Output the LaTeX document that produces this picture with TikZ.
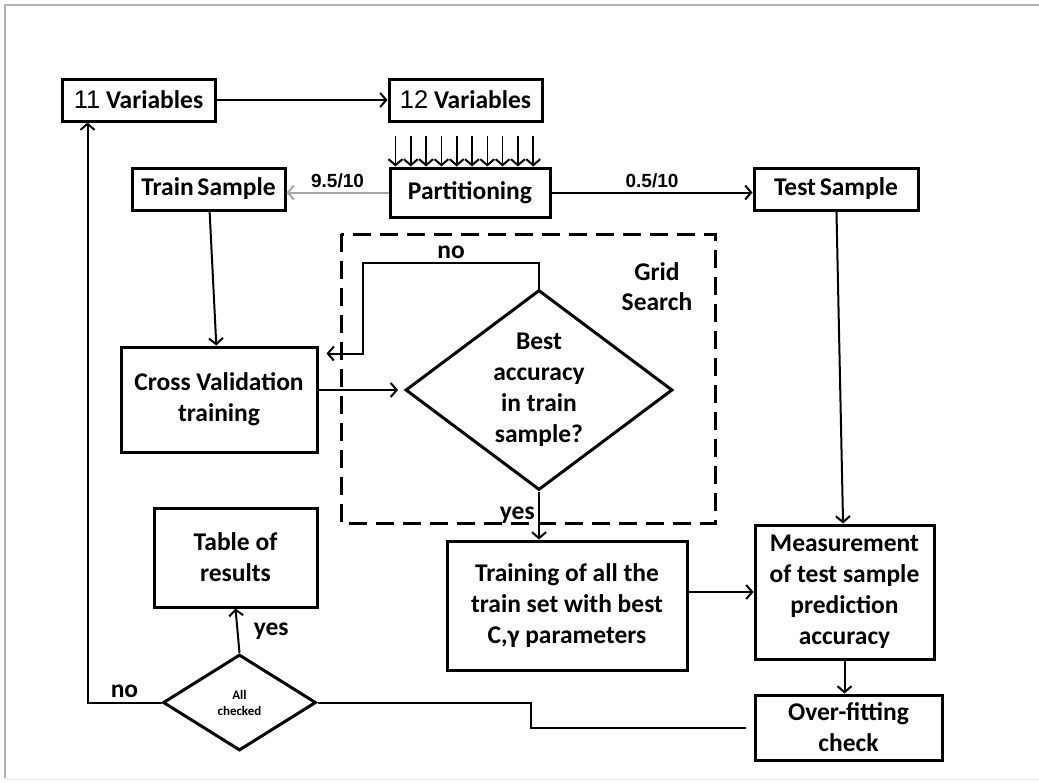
\documentclass[tikz,border=0pt]{standalone}
\usepackage{fontspec}
\setmainfont{Carlito}
\newfontfamily\arialfont{Liberation Sans}
\usetikzlibrary{shapes.geometric,arrows.meta}

\begin{document}
\begin{tikzpicture}[x=1pt, y=-1pt,
    box/.style={draw, line width=3pt, align=center, inner sep=2pt, font=\bfseries\fontsize{25.5}{31}\selectfont},
    decision/.style={draw, diamond, aspect=1.33, line width=3pt, align=center, inner sep=0pt},
    flow/.style={line width=2pt, -{Straight Barb[length=6pt,width=14pt,line width=2pt]}},
    link/.style={line width=2pt},
    lbl/.style={font=\bfseries\fontsize{25.5}{28}\selectfont},
    ratio/.style={font=\arialfont\bfseries\fontsize{19}{22}\selectfont}]
    \useasboundingbox (0,0) rectangle (1039,782);
    % Frame
    \draw[gray!60, line width=2pt] (5,778) -- (5,5) -- (1039,5);
    \draw[gray!20, line width=1pt] (5,779) -- (1039,779);

    % Nodes
    \node[box, minimum width=153pt, minimum height=42pt] (var11) at (138.5,100) {{\arialfont\mdseries 11} Variables};
    \node[box, minimum width=153pt, minimum height=42pt] (var12) at (465.5,100) {{\arialfont\mdseries 12} Variables};
    \node[box, minimum width=160pt, minimum height=49pt] (part) at (470,192.5) {Partitioning};
    \node[box, minimum width=153pt, minimum height=42pt] (train) at (208.5,189) {Train\hspace{-2pt} Sample};
    \node[box, minimum width=164pt, minimum height=42pt] (test) at (836,189) {Test\hspace{-2pt} Sample};
    \node[box, minimum width=196pt, minimum height=105pt] (cv) at (219,399.5) {Cross Validation\\training};
    \node[decision, minimum width=267pt, minimum height=200pt, font=\bfseries\fontsize{25.5}{31}\selectfont] (best) at (539,390) {Best\\accuracy\\in train\\sample?};
    \node[box, minimum width=240pt, minimum height=129pt] (training) at (567,605.5) {Training of all the\\train set with best\\C,γ parameters};
    \node[box, minimum width=179pt, minimum height=134pt] (meas) at (844.5,592) {Measurement\\of test sample\\prediction\\accuracy};
    \node[box, minimum width=187pt, minimum height=65pt] (over) at (848.5,727.5) {Over-fitting\\check};
    \node[box, minimum width=163pt, minimum height=99pt] (table) at (235.5,557.5) {Table of\\results};
    \node[decision, minimum width=153pt, minimum height=96pt, font=\bfseries\fontsize{13}{16}\selectfont] (check) at (239.5,702.5) {All\\checked};

    % Grid search region
    \draw[line width=3pt, dash pattern=on 18pt off 9pt] (341,234) rectangle (715,523);
    \node[lbl, align=center, font=\bfseries\fontsize{25.5}{30}\selectfont] (gridlbl) at (657,287) {Grid\\Search};

    \coordinate (noturn) at (363,263);
    \coordinate (jog) at (531,0);

    % Arrows
    \draw[flow] (var11) -- (var12);
    \foreach \i in {0,...,9}
        \draw[flow, line width=1.6pt] ([xshift={7+15.3*\i}]part.north west) ++(0,-31) -- ++(0,31);
    \draw[flow, gray!70] (part.west) -- (part.west -| train.east) node[midway, above, ratio, text=black] {9.5/10};
    \draw[flow] (part.east) -- (part.east -| test.west) node[midway, above, ratio] {0.5/10};
    \draw[flow] (train) -- (cv);
    \draw[flow, shorten >=6pt] (cv.east |- best.west) -- (best.west);
    \draw[flow, shorten >=8pt] (best.north) |- (noturn) node[pos=0.75, above, lbl] {no} |- ([yshift=46pt]cv.east);
    \draw[flow] (best.south) -- (best.south |- training.north) node[midway, left, lbl] {yes};
    \draw[flow] (test) -- (meas);
    \draw[flow] (meas.west -| training.east) -- (meas.west);
    \draw[flow] (meas.south) -- (meas.south |- over.north);
    \draw[link] (check.east) -- (check.east -| jog) |- ([xshift=-8pt]over.west);
    \draw[flow] (check.north) -- (table.south) node[midway, right=12pt, lbl] {yes};
    \draw[flow] (check.west) -| ([xshift=27pt]var11.south west) node[pos=0.25, above, lbl] {no};
\end{tikzpicture}
\end{document}
